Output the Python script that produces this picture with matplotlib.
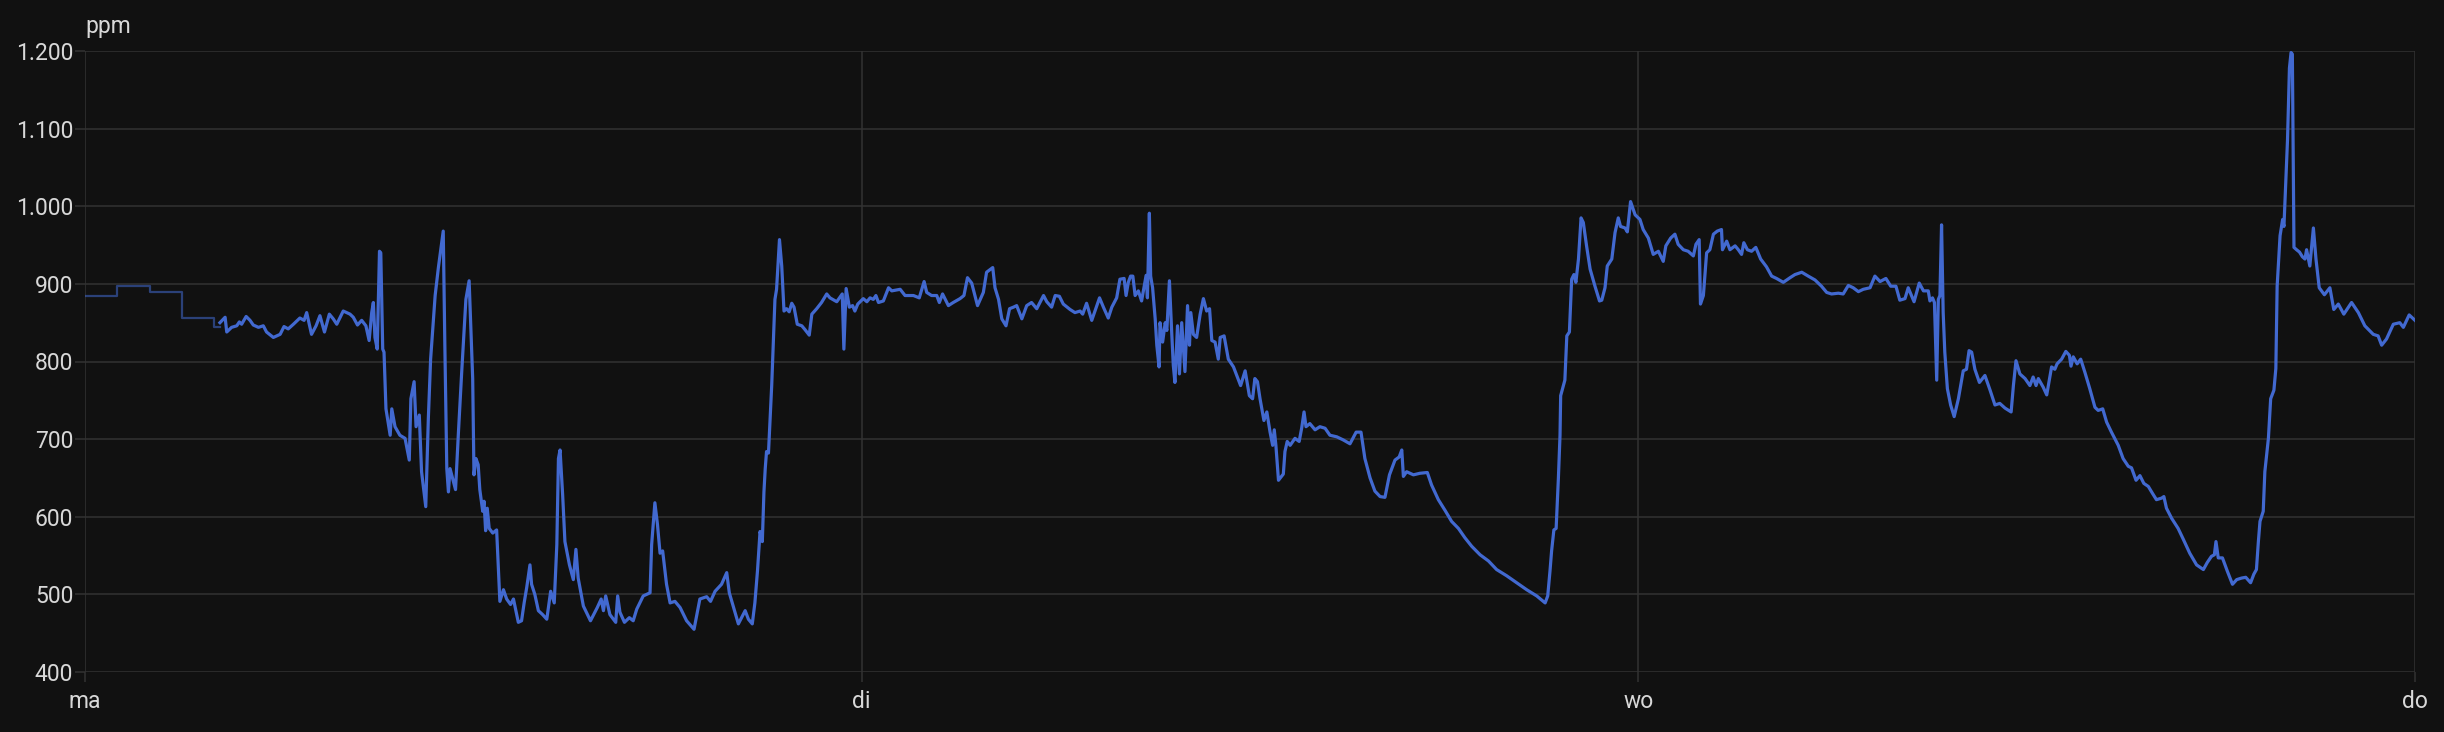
import matplotlib
matplotlib.use("Agg")
import numpy as np
import matplotlib.pyplot as plt
from matplotlib.ticker import FuncFormatter

# CO2 ppm over three days, time in hours since Monday 00:00

# hourly long-term statistics (before the detailed history starts)
stats_hours = [0, 1, 2, 3, 4, 4.17]
stats_ppm = [885, 897, 890, 856, 844, 844]

# monday
mon_hours = [4.17, 4.33, 4.38, 4.53, 4.69, 4.77, 4.84, 4.98, 5.10, 5.20, 5.36, 5.51, 5.61, 5.82, 6.03, 6.15,
             6.28, 6.44, 6.64, 6.77, 6.85, 7.00, 7.14, 7.26, 7.40, 7.55, 7.67, 7.78, 7.98, 8.19, 8.29, 8.42,
             8.55, 8.68, 8.78, 8.86, 8.91, 8.96, 9.03, 9.10, 9.14, 9.20, 9.24, 9.30, 9.43, 9.48, 9.58, 9.73,
             9.89, 10.02, 10.07, 10.17, 10.23, 10.33, 10.40, 10.53, 10.61, 10.68, 10.82, 10.92, 11.07, 11.12,
             11.18, 11.23, 11.28, 11.45, 11.54, 11.64, 11.77, 11.87, 11.98, 12.02, 12.08, 12.15, 12.20, 12.29,
             12.33, 12.38, 12.43, 12.49, 12.60, 12.72, 12.82, 12.93, 13.03, 13.15, 13.24, 13.39, 13.49, 13.57,
             13.65, 13.75, 13.80, 13.90, 14.01, 14.14, 14.27, 14.39, 14.50, 14.58, 14.63, 14.68, 14.76, 14.83,
             14.97, 15.09, 15.17, 15.24, 15.40, 15.62, 15.83, 15.95, 16.02, 16.09, 16.22, 16.40, 16.46, 16.53,
             16.67, 16.82, 16.94, 17.05, 17.25, 17.46, 17.51, 17.61, 17.69, 17.77, 17.85, 17.97, 18.08, 18.23,
             18.39, 18.59, 18.82, 19.00, 19.21, 19.33, 19.47, 19.67, 19.83, 19.91, 20.03, 20.19, 20.40, 20.50,
             20.62, 20.70, 20.78, 20.86, 20.93, 20.98, 21.02, 21.06, 21.12, 21.22, 21.32, 21.37, 21.46, 21.53,
             21.60, 21.68, 21.76, 21.84, 21.91, 22.01, 22.15, 22.25, 22.38, 22.46, 22.61, 22.76, 22.92, 23.02,
             23.23, 23.40, 23.45, 23.52, 23.62, 23.72, 23.79, 23.88]
mon_ppm = [850, 857, 838, 844, 846, 851, 848, 858, 853, 847, 844, 846, 838, 831, 835, 845,
           842, 848, 856, 853, 863, 835, 846, 859, 838, 861, 855, 848, 865, 861, 857, 847,
           853, 846, 827, 863, 876, 831, 816, 942, 940, 816, 812, 739, 705, 739, 716, 705,
           701, 673, 752, 774, 716, 731, 658, 613, 727, 803, 885, 921, 968, 820,
           662, 632, 662, 635, 709, 786, 880, 904, 778, 654, 675, 667, 635, 607,
           620, 582, 611, 585, 579, 583, 491, 506, 494, 487, 494, 464, 466, 489,
           509, 538, 513, 500, 479, 474, 468, 504, 489, 564, 675, 686, 628, 568,
           538, 519, 558, 521, 485, 466, 483, 494, 479, 498, 474, 464, 498, 477,
           464, 470, 466, 481, 498, 502, 564, 618, 590, 553, 556, 513, 489, 491,
           483, 466, 455, 494, 497, 491, 504, 513, 528, 502, 485, 462, 479, 468,
           462, 489, 530, 581, 568, 632, 662, 684, 682, 769, 880, 893, 957, 923,
           865, 868, 864, 875, 870, 848, 846, 841, 834, 861, 868, 876, 887, 882,
           877, 887, 816, 894, 870, 872, 865, 874]

# tuesday
tue_hours = [24.05, 24.16, 24.26, 24.36, 24.44, 24.52, 24.67, 24.83, 24.93, 25.19, 25.34, 25.60, 25.78, 25.93,
             26.01, 26.16, 26.32, 26.40, 26.50, 26.68, 26.83, 27.04, 27.16, 27.27, 27.40, 27.58, 27.76, 27.86,
             28.05, 28.12, 28.23, 28.33, 28.46, 28.57, 28.69, 28.79, 28.95, 29.10, 29.25, 29.41, 29.62, 29.72,
             29.87, 29.98, 30.11, 30.23, 30.44, 30.59, 30.75, 30.83, 30.95, 31.11, 31.35, 31.47, 31.62, 31.73,
             31.88, 31.98, 32.11, 32.17, 32.24, 32.31, 32.38, 32.45, 32.55, 32.65, 32.79, 32.83, 32.89, 32.93,
             32.99, 33.07, 33.12, 33.19, 33.22, 33.30, 33.38, 33.43, 33.51, 33.58, 33.63, 33.68, 33.76, 33.82,
             33.89, 33.99, 34.07, 34.13, 34.17, 34.25, 34.35, 34.46, 34.56, 34.66, 34.75, 34.82, 34.92, 35.02,
             35.08, 35.20, 35.33, 35.49, 35.71, 35.85, 35.98, 36.08, 36.15, 36.23, 36.31, 36.43, 36.52, 36.62,
             36.70, 36.75, 36.80, 36.88, 37.03, 37.08, 37.15, 37.24, 37.39, 37.52, 37.60, 37.67, 37.73, 37.85,
             38.01, 38.16, 38.32, 38.47, 38.68, 38.88, 39.09, 39.28, 39.43, 39.55, 39.71, 39.86, 40.02, 40.17,
             40.31, 40.48, 40.61, 40.69, 40.74, 40.84, 41.05, 41.25, 41.48, 41.61, 41.82, 42.03, 42.23, 42.44,
             42.64, 42.85, 43.11, 43.37, 43.62, 43.93, 44.24, 44.55, 44.86, 45.12, 45.20, 45.27, 45.32, 45.39,
             45.46, 45.53, 45.58, 45.60, 45.66, 45.73, 45.79, 45.87, 45.94, 46.01, 46.07, 46.15, 46.23, 46.30,
             46.40, 46.51, 46.66, 46.80, 46.87, 46.97, 47.04, 47.18, 47.28, 47.38, 47.45, 47.59, 47.66, 47.76,
             47.90]
tue_ppm = [881, 877, 882, 880, 885, 876, 878, 895, 891, 893, 885, 885, 882, 903,
           889, 885, 885, 876, 887, 872, 876, 881, 885, 908, 901, 872, 889, 915,
           921, 895, 880, 855, 846, 868, 870, 872, 855, 872, 876, 868, 885, 877,
           870, 885, 884, 874, 867, 863, 865, 861, 875, 853, 882, 870, 856, 870,
           882, 906, 907, 885, 902, 910, 910, 885, 891, 878, 911, 882, 991, 910,
           895, 855, 821, 793, 850, 825, 850, 840, 904, 838, 795, 773, 846, 784,
           850, 787, 872, 821, 863, 835, 831, 861, 881, 865, 868, 827, 825, 803,
           831, 833, 803, 793, 769, 788, 756, 752, 778, 774, 752, 724, 735, 709,
           692, 712, 692, 647, 655, 684, 697, 692, 701, 697, 715, 735, 716, 720,
           712, 716, 714, 705, 703, 699, 694, 709, 709, 675, 650, 633, 626, 625,
           654, 673, 677, 686, 652, 658, 654, 656, 657, 641, 622, 608, 594, 585,
           573, 562, 551, 543, 532, 524, 515, 506, 498, 489, 498, 530, 556, 583,
           585, 650, 705, 756, 765, 776, 833, 838, 906, 912, 902, 932, 985, 979,
           949, 919, 897, 878, 879, 895, 923, 932, 966, 985, 974, 972, 967, 1006,
           989]

# wednesday
wed_hours = [48.05, 48.15, 48.31, 48.46, 48.62, 48.77, 48.85, 49.00, 49.13, 49.23, 49.39, 49.54, 49.70, 49.78,
             49.88, 49.92, 50.01, 50.11, 50.21, 50.32, 50.44, 50.57, 50.60, 50.73, 50.83, 50.99, 51.09, 51.19,
             51.26, 51.37, 51.50, 51.63, 51.78, 51.96, 52.12, 52.27, 52.48, 52.69, 52.84, 53.05, 53.25, 53.46,
             53.66, 53.82, 53.97, 54.18, 54.33, 54.49, 54.64, 54.80, 54.95, 55.16, 55.31, 55.47, 55.65, 55.80,
             55.96, 56.08, 56.24, 56.34, 56.52, 56.68, 56.81, 56.96, 57.01, 57.09, 57.15, 57.22, 57.27, 57.32,
             57.37, 57.42, 57.47, 57.55, 57.65, 57.76, 57.89, 58.04, 58.14, 58.22, 58.30, 58.40, 58.54, 58.71,
             58.87, 59.02, 59.17, 59.33, 59.52, 59.59, 59.67, 59.79, 59.95, 60.10, 60.20, 60.29, 60.36, 60.51,
             60.62, 60.77, 60.87, 60.94, 61.08, 61.21, 61.32, 61.37, 61.44, 61.56, 61.67, 61.80, 61.95, 62.11,
             62.21, 62.35, 62.47, 62.62, 62.83, 62.98, 63.14, 63.24, 63.38, 63.50, 63.62, 63.76, 63.89, 64.01,
             64.17, 64.24, 64.32, 64.48, 64.68, 64.84, 65.04, 65.25, 65.46, 65.58, 65.71, 65.80, 65.85, 65.92,
             66.05, 66.20, 66.36, 66.49, 66.64, 66.77, 66.92, 67.02, 67.10, 67.16, 67.21, 67.31, 67.36, 67.47,
             67.54, 67.64, 67.70, 67.74, 67.83, 67.91, 67.95, 68.06, 68.12, 68.17, 68.21, 68.26, 68.34, 68.43,
             68.52, 68.60, 68.65, 68.75, 68.86, 68.94, 69.04, 69.20, 69.37, 69.49, 69.63, 69.80, 70.04, 70.25,
             70.45, 70.71, 70.86, 70.97, 71.12, 71.33, 71.53, 71.64, 71.82, 72.00]
wed_ppm = [983, 970, 959, 938, 942, 929, 949, 959, 964, 951, 944, 942, 936, 951,
           957, 874, 885, 940, 944, 964, 968, 970, 944, 955, 944, 949, 944, 938,
           953, 944, 942, 947, 932, 922, 910, 907, 902, 908, 912, 915, 910, 905,
           897, 889, 887, 888, 887, 898, 895, 890, 893, 895, 910, 903, 907, 897,
           897, 879, 881, 895, 877, 901, 891, 891, 878, 882, 876, 776, 880, 885,
           976, 863, 812, 765, 744, 729, 752, 788, 790, 814, 812, 790, 773, 782,
           763, 744, 746, 740, 735, 769, 801, 784, 778, 769, 780, 769, 778, 767,
           757, 793, 790, 797, 803, 813, 808, 794, 806, 797, 803, 786, 765, 741,
           737, 739, 722, 709, 692, 675, 665, 663, 647, 653, 643, 639, 630, 622,
           624, 626, 611, 598, 585, 571, 553, 538, 532, 541, 549, 551, 568, 547,
           547, 530, 513, 519, 521, 522, 515, 526, 532, 568, 594, 607, 658, 701,
           752, 763, 791, 897, 962, 983, 974, 1085, 1178, 1198, 1196, 947, 944, 941,
           935, 932, 944, 923, 972, 932, 895, 886, 895, 867, 874, 861, 876, 863,
           846, 835, 833, 821, 829, 848, 850, 844, 860, 853]

day_ticks = [0, 24, 48, 72]
day_labels = ["ma", "di", "wo", "do"]

hours = np.array(mon_hours + tue_hours + wed_hours)
ppm = np.array(mon_ppm + tue_ppm + wed_ppm)

bg = "#111111"
grid_col = "#323232"
text_col = "#d8d8d8"
line_col = "#4269d0"

plt.rcParams["font.family"] = ["Roboto", "DejaVu Sans"]

fig = plt.figure(figsize=(24.44, 7.32), dpi=100, facecolor=bg)
ax = fig.add_axes([85 / 2444, 1 - 672 / 732, (2415 - 85) / 2444, (672 - 51) / 732])
ax.set_facecolor(bg)

ax.plot(stats_hours, stats_ppm, drawstyle="steps-post", color=line_col, alpha=0.55, lw=1.6, zorder=3)
ax.plot(hours, ppm, color=line_col, lw=2.3, zorder=4, solid_joinstyle="round")

ax.set_xlim(0, 72)
ax.set_ylim(400, 1200)
ax.set_yticks(range(400, 1201, 100))
ax.yaxis.set_major_formatter(FuncFormatter(lambda v, p: "{:,.0f}".format(v).replace(",", ".")))
ax.set_xticks(day_ticks)
ax.set_xticklabels(day_labels)

ax.grid(True, color=grid_col, lw=1.1)
for s in ax.spines.values():
    s.set_visible(False)
ax.tick_params(axis="both", colors=grid_col, labelcolor=text_col, labelsize=16.5, length=7, width=1.1)
ax.tick_params(axis="y", pad=1.5)
ax.tick_params(axis="x", pad=6)

fig.text(85 / 2444, 1 - 27 / 732, "ppm", color=text_col, fontsize=16.5, ha="left", va="center")

fig.savefig("out.png", dpi=100, facecolor=bg)
